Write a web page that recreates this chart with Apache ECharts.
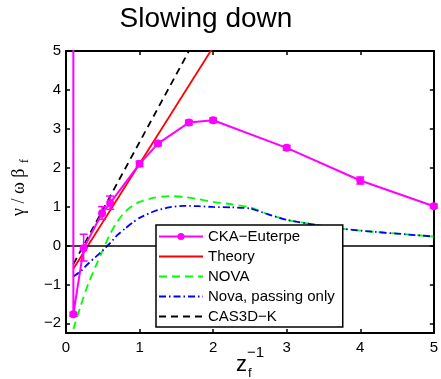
<!DOCTYPE html>
<html>
<head>
<meta charset="utf-8">
<script src="https://cdn.jsdelivr.net/npm/echarts@6/dist/echarts.min.js"></script>
<style>
  html, body { margin: 0; padding: 0; background: #fff; }
  #chart { width: 441px; height: 379px; }
</style>
</head>
<body>
<div id="chart"></div>
<script>
// CKA-Euterpe points (first point is off the top, drawn without marker)
const ckaX = [0.1, 0.1, 0.24, 0.49, 0.6, 1.0, 1.25, 1.67, 2.0, 3.0, 4.0, 5.0];
const ckaY = [12, -1.77, -0.07, 0.83, 1.09, 2.1, 2.62, 3.16, 3.22, 2.51, 1.67, 1.01];
const ckaLow = [null, -1.82, -0.4, 0.67, 0.93, 2.03, 2.56, 3.1, 3.16, 2.45, 1.58, 0.96];
const ckaHigh = [null, -1.72, 0.29, 1.0, 1.27, 2.17, 2.68, 3.22, 3.28, 2.57, 1.76, 1.06];

// Theory line and CAS3D-K
const theoryX = [0.1, 2.0];
const theoryY = [-0.6, 5.1];
const casX = [0.1, 1.7];
const casY = [-0.48, 5.1];

// NOVA curves
const novaX = [0.1, 0.2, 0.3, 0.4, 0.5, 0.6, 0.7, 0.8, 0.9, 1.0, 1.2, 1.4, 1.6, 1.8, 2.0, 2.25, 2.5, 2.75, 3.0, 3.4, 3.8, 4.2, 4.6, 5.0];
const novaY = [-2.15, -1.55, -1.0, -0.55, -0.12, 0.3, 0.62, 0.86, 1.02, 1.12, 1.23, 1.27, 1.25, 1.19, 1.12, 1.06, 0.98, 0.8, 0.66, 0.53, 0.42, 0.35, 0.29, 0.23];
const passY = [-0.8, -0.66, -0.47, -0.3, -0.13, 0.06, 0.27, 0.43, 0.58, 0.71, 0.88, 0.98, 1.02, 1.01, 0.99, 0.98, 0.95, 0.8, 0.66, 0.53, 0.42, 0.35, 0.29, 0.23];

const xTicks = [0, 1, 2, 3, 4, 5];
const yTicks = [-2, -1, 0, 1, 2, 3, 4, 5];

const FONT = 'Liberation Sans, Arial, sans-serif';
const SERIF = 'Liberation Serif, DejaVu Serif, serif';
const MAG = '#ff00ff';

const zip = (xs, ys) => xs.map((x, i) => [x, ys[i]]);
const minus = v => String(v).replace('-', '\u2212');

const ckaData = ckaX.map((x, i) => i === 0
  ? { value: [x, ckaY[i]], symbol: 'none' }
  : [x, ckaY[i]]);
const errData = ckaX.map((x, i) => [x, ckaLow[i], ckaHigh[i]]).filter(d => d[1] !== null);

const chart = echarts.init(document.getElementById('chart'));

const baseX = {
  type: 'value', min: 0, max: 5, interval: 1,
  splitLine: { show: false },
  axisLine: { show: true, onZero: false, lineStyle: { color: '#000', width: 2 } },
  axisTick: { inside: true, length: 4, lineStyle: { color: '#000', width: 1.5 } }
};
const baseY = {
  type: 'value', min: -2.25, max: 5,
  splitLine: { show: false },
  axisLine: { show: true, onZero: false, lineStyle: { color: '#000', width: 2 } },
  axisTick: { inside: true, length: 4, customValues: yTicks, lineStyle: { color: '#000', width: 1.5 } }
};

const noMark = { opacity: 0 };

chart.setOption({
  animation: false,
  grid: { left: 66, right: 4, top: 51, bottom: 46 },
  xAxis: [
    Object.assign({}, baseX, {
      position: 'bottom',
      axisLabel: { color: '#000', fontSize: 15, fontFamily: FONT, margin: 7 }
    }),
    Object.assign({}, baseX, { position: 'top', axisLabel: { show: false } })
  ],
  yAxis: [
    Object.assign({}, baseY, {
      position: 'left',
      axisLabel: { color: '#000', fontSize: 15, fontFamily: FONT, margin: 5,
        customValues: yTicks, formatter: v => minus(v) }
    }),
    Object.assign({}, baseY, { position: 'right', axisLabel: { show: false } })
  ],
  legend: {
    orient: 'vertical', left: 156, top: 225,
    data: [
      { name: 'CKA\u2212Euterpe' },
      { name: 'Theory', itemStyle: noMark },
      { name: 'NOVA', itemStyle: noMark },
      { name: 'Nova, passing only', itemStyle: noMark },
      { name: 'CAS3D\u2212K', itemStyle: noMark }
    ],
    itemWidth: 44, itemHeight: 9, itemGap: 5,
    padding: [4, 8, 3, 2],
    backgroundColor: '#fff', borderColor: '#000', borderWidth: 1.5,
    textStyle: { color: '#000', fontSize: 15, fontFamily: FONT, lineHeight: 15 },
    z: 10
  },
  graphic: [
    { type: 'text', x: 206, y: 19, z: 20,
      style: { text: 'Slowing down', font: '28px ' + FONT, fill: '#000', textAlign: 'center', textVerticalAlign: 'middle' } },
    { type: 'text', x: 19, y: 216, rotation: Math.PI / 2, z: 20,
      style: { text: '\u03b3 / \u03c9 \u03b2', font: '18px ' + SERIF, fill: '#000', textAlign: 'left', textVerticalAlign: 'middle' } },
    { type: 'text', x: 25, y: 163, rotation: Math.PI / 2, z: 20,
      style: { text: 'f', font: '12px ' + SERIF, fill: '#000', textAlign: 'left', textVerticalAlign: 'middle' } },
    { type: 'text', x: 236, y: 376, z: 20,
      style: { text: 'z', font: '22px ' + FONT, fill: '#000', textAlign: 'left', textVerticalAlign: 'bottom' } },
    { type: 'text', x: 248, y: 380, z: 20,
      style: { text: 'f', font: '13px ' + FONT, fill: '#000', textAlign: 'left', textVerticalAlign: 'bottom' } },
    { type: 'text', x: 247, y: 360, z: 20,
      style: { text: '\u22121', font: '15px ' + FONT, fill: '#000', textAlign: 'left', textVerticalAlign: 'bottom' } }
  ],
  series: [
    {
      name: 'CKA\u2212Euterpe', type: 'line', data: ckaData,
      symbol: 'circle', symbolSize: 8,
      itemStyle: { color: MAG }, lineStyle: { color: MAG, width: 2 },
      clip: true, z: 5
    },
    {
      name: 'errbars', type: 'custom', data: errData, z: 5,
      renderItem: function (params, api) {
        const x = api.value(0);
        const lo = api.coord([x, api.value(1)]);
        const hi = api.coord([x, api.value(2)]);
        const cw = 4;
        const st = { stroke: MAG, lineWidth: 1.5 };
        return {
          type: 'group', children: [
            { type: 'line', shape: { x1: lo[0], y1: lo[1], x2: hi[0], y2: hi[1] }, style: st },
            { type: 'line', shape: { x1: lo[0] - cw, y1: lo[1], x2: lo[0] + cw, y2: lo[1] }, style: st },
            { type: 'line', shape: { x1: hi[0] - cw, y1: hi[1], x2: hi[0] + cw, y2: hi[1] }, style: st }
          ]
        };
      }
    },
    {
      name: 'Theory', type: 'line', data: zip(theoryX, theoryY),
      symbol: 'none', lineStyle: { color: '#ff0000', width: 1.8 }, itemStyle: { color: '#ff0000' },
      clip: true, z: 4,
      markLine: {
        silent: true, symbol: 'none', label: { show: false },
        lineStyle: { color: '#000', width: 1.5, type: 'solid' },
        data: [{ yAxis: 0 }]
      }
    },
    {
      name: 'NOVA', type: 'line', data: zip(novaX, novaY), smooth: 0.2,
      symbol: 'none', lineStyle: { color: '#00ff00', width: 1.8, type: [8, 5] }, itemStyle: { color: '#00ff00' },
      clip: true, z: 3
    },
    {
      name: 'Nova, passing only', type: 'line', data: zip(novaX, passY), smooth: 0.2,
      symbol: 'none', lineStyle: { color: '#0000ff', width: 1.8, type: [7, 3, 1.5, 3] }, itemStyle: { color: '#0000ff' },
      clip: true, z: 3
    },
    {
      name: 'CAS3D\u2212K', type: 'line', data: zip(casX, casY),
      symbol: 'none', lineStyle: { color: '#000', width: 1.8, type: [7, 5] }, itemStyle: { color: '#000' },
      clip: true, z: 3
    }
  ]
});
</script>
</body>
</html>
